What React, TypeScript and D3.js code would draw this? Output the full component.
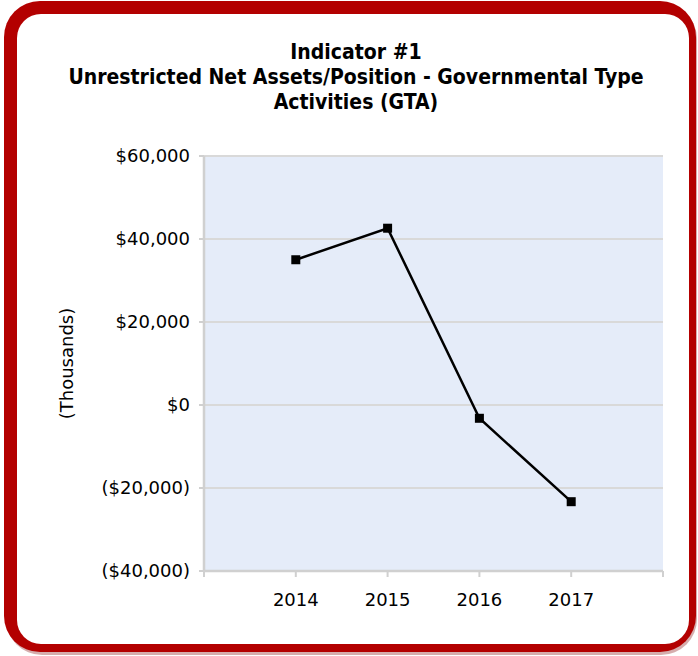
import * as d3 from "d3";

const YEARS = [2014, 2015, 2016, 2017];
const VALUES = [35000, 42600, -3200, -23300];
const Y_TICKS = [60000, 40000, 20000, 0, -20000, -40000];
const TITLE_LINES = [
  "Indicator #1",
  "Unrestricted Net Assets/Position - Governmental Type",
  "Activities (GTA)",
];
const Y_TITLE = "(Thousands)";

const W = 698;
const H = 656;
const plot = { left: 204, right: 663, top: 156, bottom: 571 };

const fmt = d3.format(",");
const money = (v: number) => (v < 0 ? `($${fmt(-v)})` : `$${fmt(v)}`);

export default function App() {
  const x = d3
    .scaleLinear()
    .domain([YEARS[0] - 1, YEARS[YEARS.length - 1] + 1])
    .range([plot.left, plot.right]);
  const y = d3
    .scaleLinear()
    .domain([d3.min(Y_TICKS)!, d3.max(Y_TICKS)!])
    .range([plot.bottom, plot.top]);

  const line = d3
    .line<number>()
    .x((_, i) => x(YEARS[i]))
    .y((d) => y(d));

  const xTicks = d3.range(YEARS[0] - 1, YEARS[YEARS.length - 1] + 2);
  const axisColor = "#d0d0d0";
  const font = "'DejaVu Sans', sans-serif";

  return (
    <svg
      width={W}
      height={H}
      style={{ position: "absolute", left: 0, top: 0 }}
    >
      {/* frame */}
      <rect x={0} y={0} width={W} height={H} fill="#ffffff" />
      <rect x={6} y={3} width={691} height={652} rx={36} fill="#8a1515" opacity={0.35} />
      <rect x={4} y={1} width={692} height={651} rx={36} fill="#b30000" />
      <rect x={17} y={14} width={672} height={630} rx={24} fill="#ffffff" />

      {/* title */}
      <g fontFamily="'DejaVu Sans Condensed', 'DejaVu Sans', sans-serif" fontWeight="bold" fontSize={21} textAnchor="middle" fill="#000">
        {TITLE_LINES.map((t, i) => (
          <text key={t} x={356} y={59 + i * 25}>
            {t}
          </text>
        ))}
      </g>

      {/* plot background */}
      <rect
        x={plot.left}
        y={plot.top}
        width={plot.right - plot.left}
        height={plot.bottom - plot.top}
        fill="#e5ecf9"
      />

      {/* gridlines + y ticks */}
      {Y_TICKS.map((t) => (
        <g key={t}>
          <line x1={plot.left} x2={plot.right} y1={y(t)} y2={y(t)} stroke="#d9d9d9" strokeWidth={2} />
          <line x1={plot.left - 5} x2={plot.left} y1={y(t)} y2={y(t)} stroke={axisColor} strokeWidth={2} />
          <text
            x={190}
            y={y(t)}
            dy="0.35em"
            textAnchor="end"
            fontFamily={font}
            fontSize={18}
            fill="#000"
          >
            {money(t)}
          </text>
        </g>
      ))}

      {/* axes */}
      <line x1={plot.left} x2={plot.left} y1={plot.top} y2={plot.bottom} stroke={axisColor} strokeWidth={2.5} />
      <line x1={plot.left} x2={plot.right} y1={plot.bottom} y2={plot.bottom} stroke={axisColor} strokeWidth={2.5} />
      {xTicks.map((t) => (
        <line key={t} x1={x(t)} x2={x(t)} y1={plot.bottom} y2={plot.bottom + 6} stroke={axisColor} strokeWidth={2} />
      ))}
      {YEARS.map((yr) => (
        <text key={yr} x={x(yr)} y={606} textAnchor="middle" fontFamily={font} fontSize={18} fill="#000">
          {yr}
        </text>
      ))}

      {/* y title */}
      <text
        transform={`translate(73, ${(plot.top + plot.bottom) / 2}) rotate(-90)`}
        textAnchor="middle"
        fontFamily={font}
        fontSize={18}
        fill="#000"
      >
        {Y_TITLE}
      </text>

      {/* series */}
      <path d={line(VALUES) ?? ""} fill="none" stroke="#000" strokeWidth={2.5} />
      {VALUES.map((v, i) => (
        <rect key={i} x={x(YEARS[i]) - 4.5} y={y(v) - 4.5} width={9} height={9} fill="#000" />
      ))}
    </svg>
  );
}
